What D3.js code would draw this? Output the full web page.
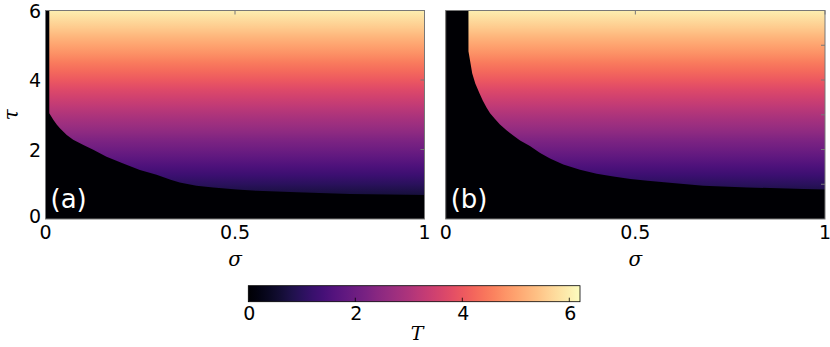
<!DOCTYPE html>
<html lang="en">
  <head>
    <meta charset="UTF-8" />
    <title>Threshold maps of T over sigma and tau</title>
    <style>
      body { margin: 0; background: #fff; }
      text { font-family: 'DejaVu Sans', sans-serif; }
      .math { font-family: 'DejaVu Serif', serif; font-style: italic; }
    </style>
  </head>
  <body>
    <svg width="830" height="347"></svg>
    <script src="https://d3js.org/d3.v7.min.js"></script>
    <script>
      // boundary of the T = 0 region (sigma, tau)
      const sigmaA = [0, 0.01, 0.01, 0.021, 0.03, 0.038, 0.056, 0.073, 0.1, 0.126, 0.161, 0.205,
        0.249, 0.293, 0.33, 0.354, 0.398, 0.442, 0.504, 0.556, 0.662, 0.802, 1];
      const tauA = [6, 6, 3.04, 2.85, 2.71, 2.61, 2.42, 2.28, 2.13, 1.99, 1.79, 1.6,
        1.41, 1.27, 1.13, 1.05, 0.96, 0.91, 0.85, 0.81, 0.77, 0.72, 0.69];

      const sigmaB = [0, 0.06, 0.06, 0.07, 0.078, 0.089, 0.098, 0.108, 0.117, 0.13, 0.143, 0.161,
        0.178, 0.196, 0.222, 0.249, 0.275, 0.31, 0.354, 0.398, 0.442, 0.487, 0.532, 0.59,
        0.679, 0.794, 0.855, 0.943, 1];
      const tauB = [6, 6, 4.83, 4.19, 3.9, 3.62, 3.4, 3.2, 3.04, 2.88, 2.72, 2.55,
        2.4, 2.26, 2.1, 1.9, 1.74, 1.57, 1.42, 1.3, 1.22, 1.15, 1.1, 1.04,
        0.96, 0.91, 0.89, 0.86, 0.85];

      const sigmaTicks = [0, 0.5, 1];
      const sigmaTickLabels = ['0', '0.5', '1'];
      const tauTicks = [0, 2, 4, 6];
      const cbarTicks = [0, 2, 4, 6];
      const tMax = 6.2;

      const svg = d3.select('svg');
      const defs = svg.append('defs');
      const color = (t) => d3.interpolateMagma(t / tMax);

      const y = d3.scaleLinear().domain([0, 6]).range([219, 10.5]);

      // vertical gradient: T follows tau above the boundary
      const vg = defs.append('linearGradient')
        .attr('id', 'tauGrad')
        .attr('gradientUnits', 'userSpaceOnUse')
        .attr('x1', 0).attr('x2', 0)
        .attr('y1', y(0)).attr('y2', y(6));
      d3.range(0, 6.01, 0.25).forEach((t) => {
        vg.append('stop').attr('offset', t / 6).attr('stop-color', color(t));
      });

      const panels = [
        { id: 'a', x0: 45.5, x1: 424.5, sig: sigmaA, tau: tauA, rightTicks: [2, 4], yLabels: true },
        { id: 'b', x0: 445.7, x1: 825, sig: sigmaB, tau: tauB, rightTicks: [1, 2, 3, 4, 5], yLabels: false }
      ];

      panels.forEach((p) => {
        const x = d3.scaleLinear().domain([0, 1]).range([p.x0, p.x1]);
        const g = svg.append('g');

        g.append('rect')
          .attr('x', x(0)).attr('y', y(6))
          .attr('width', x(1) - x(0)).attr('height', y(0) - y(6))
          .attr('fill', 'url(#tauGrad)');

        const area = d3.area()
          .x((d, i) => x(p.sig[i]))
          .y0(y(0))
          .y1((d, i) => y(p.tau[i]));
        g.append('path')
          .attr('d', area(p.sig))
          .attr('fill', color(0));

        // inner ticks on top and right
        g.selectAll('.tt').data([0.5, 1]).enter().append('line')
          .attr('x1', (d) => x(d)).attr('x2', (d) => x(d))
          .attr('y1', y(6)).attr('y2', y(6) + 4)
          .attr('stroke', '#777');
        g.selectAll('.rt').data(p.rightTicks).enter().append('line')
          .attr('x1', x(1)).attr('x2', x(1) - 4)
          .attr('y1', (d) => y(d)).attr('y2', (d) => y(d))
          .attr('stroke', '#777');

        g.append('rect')
          .attr('x', x(0)).attr('y', y(6))
          .attr('width', x(1) - x(0)).attr('height', y(0) - y(6))
          .attr('fill', 'none').attr('stroke', '#777').attr('stroke-width', 1);

        g.selectAll('.xl').data(sigmaTicks).enter().append('text')
          .attr('x', (d) => x(d)).attr('y', 239)
          .attr('text-anchor', 'middle')
          .attr('font-size', 19)
          .text((d, i) => sigmaTickLabels[i]);

        g.append('text')
          .attr('class', 'math')
          .attr('x', x(0.5)).attr('y', 266)
          .attr('text-anchor', 'middle')
          .attr('font-size', 20)
          .text('σ');

        g.append('text')
          .attr('x', x(0) + 5).attr('y', 208)
          .attr('fill', '#fff')
          .attr('font-size', 26)
          .text('(' + p.id + ')');

        if (p.yLabels) {
          g.selectAll('.yl').data(tauTicks).enter().append('text')
            .attr('x', 41)
            .attr('y', (d) => (d === 0 ? y(d) + 4 : y(d) + 7))
            .attr('text-anchor', 'end')
            .attr('font-size', 19)
            .text((d) => d);
          g.append('text')
            .attr('class', 'math')
            .attr('transform', 'translate(18,' + y(3) + ') rotate(-90)')
            .attr('text-anchor', 'middle')
            .attr('font-size', 20)
            .text('τ');
        }
      });

      // colorbar
      const cx = d3.scaleLinear().domain([0, tMax]).range([248.3, 580]);
      const hg = defs.append('linearGradient')
        .attr('id', 'cbarGrad')
        .attr('gradientUnits', 'userSpaceOnUse')
        .attr('x1', cx(0)).attr('x2', cx(tMax))
        .attr('y1', 0).attr('y2', 0);
      d3.range(0, tMax + 0.01, 0.2).forEach((t) => {
        hg.append('stop').attr('offset', t / tMax).attr('stop-color', color(t));
      });
      const cb = svg.append('g');
      cb.append('rect')
        .attr('x', cx(0)).attr('y', 285.7)
        .attr('width', cx(tMax) - cx(0)).attr('height', 16)
        .attr('fill', 'url(#cbarGrad)')
        .attr('stroke', '#000').attr('stroke-width', 0.8);
      cb.selectAll('.ct').data(cbarTicks.slice(1)).enter().append('line')
        .attr('x1', (d) => cx(d)).attr('x2', (d) => cx(d))
        .attr('y1', 301.7).attr('y2', 297.7)
        .attr('stroke', '#000').attr('stroke-width', 0.8);
      cb.selectAll('.cl').data(cbarTicks).enter().append('text')
        .attr('x', (d) => cx(d) + 1).attr('y', 320)
        .attr('text-anchor', 'middle')
        .attr('font-size', 19)
        .text((d) => d);
      cb.append('text')
        .attr('class', 'math')
        .attr('x', 417).attr('y', 340)
        .attr('text-anchor', 'middle')
        .attr('font-size', 19)
        .text('T');
    </script>
  </body>
</html>
